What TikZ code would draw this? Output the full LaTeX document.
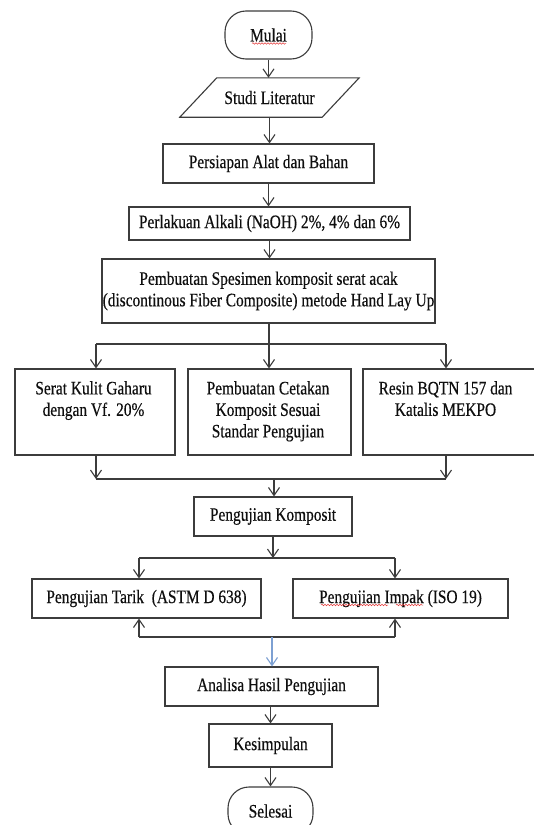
\documentclass[tikz,border=0pt]{standalone}
\usepackage{fontspec}
\setmainfont{Liberation Serif}[FakeStretch=0.81,FakeBold=0.4]
\usetikzlibrary{arrows.meta,decorations.pathmorphing,calc}
\definecolor{linec}{RGB}{60,60,60}
\definecolor{txt}{RGB}{15,15,15}
\definecolor{bluec}{RGB}{125,160,210}
\definecolor{spell}{RGB}{230,60,60}
\begin{document}
\begin{tikzpicture}[x=1bp,y=-1bp,
  font=\fontsize{19bp}{21.5bp}\selectfont,
  line/.style={draw=linec, line width=1.1bp},
  box/.style={draw=linec, line width=1.1bp, rectangle, inner sep=0pt, text=txt, align=center},
  term/.style={box, rounded corners=21bp, minimum width=87bp, minimum height=48bp},
  arr/.style={draw=linec, line width=1.1bp, -{Straight Barb[length=8bp,width=11bp]}},
  lbl/.style={inner sep=0pt, text=txt, align=center},
  squig/.style={draw=spell, line width=0.5bp, decorate, decoration={snake, amplitude=0.8bp, segment length=3bp}}]
\useasboundingbox (0,0) rectangle (534,825);
\clip (0,0) rectangle (534,825);
\fill[white] (0,0) rectangle (534,825);

% top column
\node[term] (mulai) at (268.5,35) {Mulai};
\node[lbl, minimum width=142bp, minimum height=39bp] (studi) at (269.5,97.5) {Studi Literatur};
\draw[line] ($(studi.north west)+(18.5,0)$) -- ($(studi.north east)+(18.5,0)$)
  -- ($(studi.south east)+(-18.5,0)$) -- ($(studi.south west)+(-18.5,0)$) -- cycle;
\node[box, minimum width=211bp, minimum height=39bp] (persiapan) at (268.5,163.5) {Persiapan Alat dan Bahan};
\node[box, minimum width=281bp, minimum height=33bp] (perlakuan) at (269.5,223.5) {Perlakuan Alkali (NaOH) 2\%, 4\% dan 6\%};
\node[box, minimum width=333bp, minimum height=64bp] (spesimen) at (268.5,291) {Pembuatan Spesimen komposit serat acak\\(discontinous Fiber Composite) metode Hand Lay Up};

\draw[arr] (mulai.south) -- (mulai.south |- studi.north);
\draw[arr] (studi.south) -- (studi.south |- persiapan.north);
\draw[arr] (persiapan.south) -- (persiapan.south |- perlakuan.north);
\draw[arr] (perlakuan.south) -- (perlakuan.south |- spesimen.north);

% three boxes
\node[box, minimum width=160bp, minimum height=86bp] (serat) at (95,412) {};
\node[box, minimum width=163bp, minimum height=86bp] (cetak) at (269.5,412) {};
\node[box, minimum width=177bp, minimum height=86bp] (resin) at (451.5,412) {};
\node[lbl, anchor=north] (seratT) at (93.5,381) {Serat Kulit Gaharu\\dengan Vf. 20\%};
\node[lbl, anchor=north] (cetakT) at (268,381) {Pembuatan Cetakan\\Komposit Sesuai\\Standar Pengujian};
\node[lbl, anchor=north] (resinT) at (445.5,381) {Resin BQTN 157 dan\\Katalis MEKPO};

\coordinate (sL) at (96,344);
\coordinate (sC) at (269,344);
\coordinate (sR) at (446,344);
\draw[line] (spesimen.south -| sC) -- (sC);
\draw[line] (sL) -- (sR);
\draw[arr] (sL) -- (sL |- serat.north);
\draw[arr] (sC) -- (sC |- cetak.north);
\draw[arr] (sR) -- (sR |- resin.north);

\coordinate (jL) at (96,479);
\coordinate (jC) at (274,479);
\coordinate (jR) at (446,479);
\draw[arr] (jL |- serat.south) -- (jL);
\draw[arr] (jR |- resin.south) -- (jR);
\draw[line] (jL) -- (jR);

% testing
\node[box, minimum width=158bp, minimum height=39bp] (komposit) at (273,516.5) {Pengujian Komposit};
\draw[arr] (jC) -- (jC |- komposit.north);

\node[box, minimum width=229bp, minimum height=39bp] (tarik) at (146.5,598.5) {Pengujian Tarik\ \ (ASTM D 638)};
\node[box, minimum width=215bp, minimum height=39bp] (impak) at (400.5,598.5) {Pengujian Impak (ISO 19)};

\coordinate (kL) at (139,558);
\coordinate (kC) at (273,558);
\coordinate (kR) at (395,558);
\draw[arr] (komposit.south) -- (kC);
\draw[line] (kL) -- (kR);
\draw[arr] (kL) -- (kL |- tarik.north);
\draw[arr] (kR) -- (kR |- impak.north);

\coordinate (bL) at (139,637);
\coordinate (bC) at (272,637);
\coordinate (bR) at (395,637);
\draw[arr] (bL) -- (bL |- tarik.south);
\draw[arr] (bR) -- (bR |- impak.south);
\draw[line] (bL) -- (bR);

% bottom column
\node[box, minimum width=213bp, minimum height=39bp] (analisa) at (271.5,686.5) {Analisa Hasil Pengujian};
\node[box, minimum width=123bp, minimum height=43bp] (kesimpulan) at (270.5,745.5) {Kesimpulan};
\node[term, minimum width=85bp] (selesai) at (270.5,811) {Selesai};

\draw[arr, draw=bluec] (bC) -- (bC |- analisa.north);
\draw[arr] (analisa.south -| kesimpulan.north) -- (kesimpulan.north);
\draw[arr] (kesimpulan.south) -- (selesai.north);

% spelling marks
\draw[squig] (252,43.5) -- (286,43.5);
\draw[squig] (321,605) -- (388,605);
\draw[squig] (396,605) -- (423,605);
\end{tikzpicture}
\end{document}
